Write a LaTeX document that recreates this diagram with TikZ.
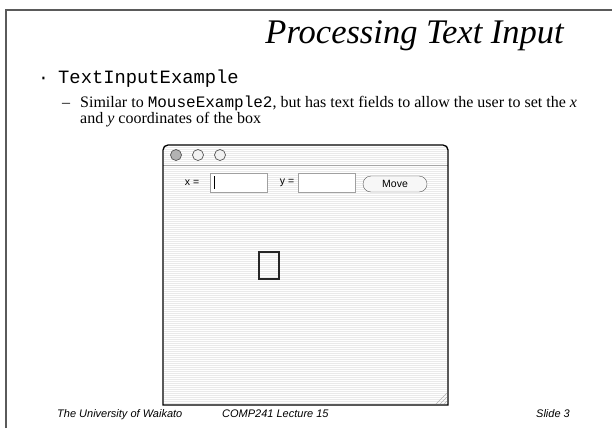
\documentclass[tikz,border=0pt]{standalone}
\usepackage{fontspec}
\setmainfont{Liberation Serif}
\setsansfont{Liberation Sans}
\setmonofont{Liberation Mono}

\definecolor{framegray}{RGB}{90,90,90}
\definecolor{stripe}{RGB}{234,234,234}
\definecolor{fieldgray}{RGB}{160,160,160}

\tikzset{
  winlabel/.style={font=\fontsize{10.5}{12}\sffamily, inner sep=0pt},
  field/.style={draw=fieldgray, fill=white, minimum width=57pt, minimum height=19pt, inner sep=0pt},
  pill/.style={draw=gray!70!black, fill=gray!6, rounded corners=8pt, minimum width=64pt, minimum height=16pt, inner sep=0pt, font=\fontsize{10.5}{12}\sffamily},
  light/.style={fill=gray!10, draw=gray!65!black, line width=0.7pt},
  subtext/.style={anchor=base west, inner sep=0pt, font=\fontsize{16}{16}\selectfont},
  footer/.style={anchor=base west, font=\fontsize{11}{13}\sffamily\itshape, inner sep=0pt}
}

\begin{document}
\begin{tikzpicture}[x=1pt,y=1pt,yscale=-1]
\useasboundingbox (0,0) rectangle (612,428);

%Slide frame
\draw [line width=2pt, color=framegray] (6,428) -- (6,10) -- (612,10) ;

% Text Node
\node [anchor=base east, inner sep=0pt, font=\fontsize{34.5}{38}\selectfont\itshape] (title) at (564,44) {Processing Text Input};
% Text Node
\node [anchor=base west, inner sep=0pt, font=\fontsize{18}{20}\ttfamily] (bullet) at (38,83) {\textperiodcentered};
% Text Node
\node [anchor=base west, inner sep=0pt, font=\fontsize{18.8}{20}\ttfamily] (item) at (58,83) {TextInputExample};
% Text Node
\node [subtext] (dash) at (62,107) {--};
% Text Node
\node [subtext] (sub) at (80,107) {Similar to \texttt{MouseExample2}, but has text fields to allow the user to set the \textit{x}};
\node [subtext] (subb) at (80,123) {and \textit{y} coordinates of the box};

%Window body
\draw [fill=white, draw=none] (163,405) [rounded corners=5pt] -- (163,145) -- (448,145) [sharp corners] -- (448,405) -- cycle ;
\foreach \y in {147,149,...,404}
  \draw [stripe, line width=1pt] (164,\y) -- (447,\y) ;
%Title bar line
\draw [gray!70, line width=0.8pt] (163,165) -- (448,165) ;
%Window outline
\draw [line width=1.3pt] (163,405) [rounded corners=5pt] -- (163,145) -- (448,145) [sharp corners] -- (448,405) -- cycle ;

%Traffic lights
\filldraw [light, fill=gray!60] (176,155) circle (5.5) ;
\filldraw [light] (198,155) circle (5.5) ;
\filldraw [light] (220,155) circle (5.5) ;

% Text Node
\node [winlabel] (xlabel) at (192,183) {x =};
\node [field] (xfield) at (238.5,182.5) {};
\coordinate (cursortop) at (214,176);
\coordinate (cursorbot) at (214,189);
\draw [line width=0.9pt] (cursortop) -- (cursorbot) ;
% Text Node
\node [winlabel] (ylabel) at (287,183) {y =};
\node [field] (yfield) at (327,182.5) {};
% Button
\node [pill] (move) at (395,184) {Move};

%Shape: Rectangle
\node [draw=gray!30!black, line width=1.1pt, fill=none, minimum width=20pt, minimum height=27pt, inner sep=0pt] (box) at (269,265.5) {};

%Resize grip
\foreach \d in {3,7,11}
  \draw [gray!60, line width=0.6pt] (447-\d,404) -- (447,404-\d) ;

% Text Node
\node [footer] (uni) at (57,417) {The University of Waikato};
\node [footer] (course) at (222,417) {COMP241 Lecture 15};
\node [footer] (slide) at (536,417) {Slide 3};

\end{tikzpicture}
\end{document}
